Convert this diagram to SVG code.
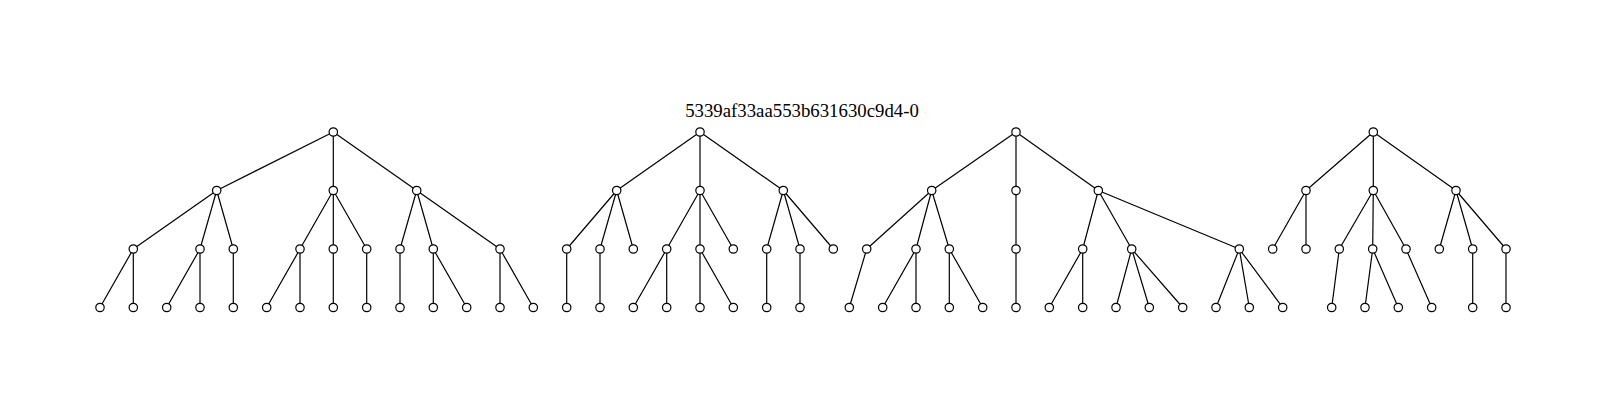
<svg xmlns="http://www.w3.org/2000/svg" width="1607" height="409" viewBox="0 0 1607 409">
<style>
.e{stroke:#000;stroke-width:1.2;fill:none}
.n{fill:#fff;stroke:#000;stroke-width:1.2}
.t{font-family:"Liberation Serif","Times New Roman",serif;font-size:18.8px;fill:#000}
</style>
<rect width="1607" height="409" fill="#fff"/>
<text class="t" x="802" y="116.5" text-anchor="middle">5339af33aa553b631630c9d4-0</text>
<g id="connectors">
<!-- tree 1 -->
<path class="e" d="M333.3,132L216.7,190.5M333.3,132L333.3,190.5M333.3,132L416.7,190.5"/>
<path class="e" d="M216.7,190.5L133.3,249M216.7,190.5L200,249M216.7,190.5L233.3,249"/>
<path class="e" d="M333.3,190.5L300,249M333.3,190.5L333.3,249M333.3,190.5L366.7,249"/>
<path class="e" d="M416.7,190.5L400,249M416.7,190.5L433.3,249M416.7,190.5L500,249"/>
<path class="e" d="M133.3,249L100,307.5M133.3,249L133.3,307.5M200,249L166.7,307.5M200,249L200,307.5M233.3,249L233.3,307.5M300,249L266.7,307.5M300,249L300,307.5M333.3,249L333.3,307.5M366.7,249L366.7,307.5M400,249L400,307.5M433.3,249L433.3,307.5M433.3,249L466.7,307.5M500,249L500,307.5M500,249L533.3,307.5"/>
<!-- tree 2 -->
<path class="e" d="M700,132L616.7,190.5M700,132L700,190.5M700,132L783.3,190.5"/>
<path class="e" d="M616.7,190.5L566.7,249M616.7,190.5L600,249M616.7,190.5L633.3,249"/>
<path class="e" d="M700,190.5L666.7,249M700,190.5L700,249M700,190.5L733.3,249"/>
<path class="e" d="M783.3,190.5L766.7,249M783.3,190.5L800,249M783.3,190.5L833.3,249"/>
<path class="e" d="M566.7,249L566.7,307.5M600,249L600,307.5M666.7,249L633.3,307.5M666.7,249L666.7,307.5M700,249L700,307.5M700,249L733.3,307.5M766.7,249L766.7,307.5M800,249L800,307.5"/>
<!-- tree 3 -->
<path class="e" d="M1016,132L931.7,190.5M1016,132L1016,190.5M1016,132L1098.3,190.5"/>
<path class="e" d="M931.7,190.5L866.7,249M931.7,190.5L916,249M931.7,190.5L949.3,249"/>
<path class="e" d="M1016,190.5L1016,249"/>
<path class="e" d="M1098.3,190.5L1082.7,249M1098.3,190.5L1131.7,249M1098.3,190.5L1239.3,249"/>
<path class="e" d="M866.7,249L849.3,307.5M916,249L882.7,307.5M916,249L916,307.5M949.3,249L949.3,307.5M949.3,249L982.7,307.5M1016,249L1016,307.5M1082.7,249L1049.3,307.5M1082.7,249L1082.7,307.5M1131.7,249L1116,307.5M1131.7,249L1149.3,307.5M1131.7,249L1182.7,307.5M1239.3,249L1216,307.5M1239.3,249L1249.3,307.5M1239.3,249L1282.7,307.5"/>
<!-- tree 4 -->
<path class="e" d="M1373.3,132L1306,190.5M1373.3,132L1373.3,190.5M1373.3,132L1456,190.5"/>
<path class="e" d="M1306,190.5L1272.7,249M1306,190.5L1306,249"/>
<path class="e" d="M1373.3,190.5L1339.3,249M1373.3,190.5L1372.7,249M1373.3,190.5L1406,249"/>
<path class="e" d="M1456,190.5L1439.3,249M1456,190.5L1472.7,249M1456,190.5L1506,249"/>
<path class="e" d="M1339.3,249L1331.7,307.5M1372.7,249L1365,307.5M1372.7,249L1398.3,307.5M1406,249L1431.7,307.5M1472.7,249L1472.7,307.5M1506,249L1506,307.5"/>
</g>
<g id="tree1">
<circle class="n" cx="333.3" cy="132" r="4.2"/>
<circle class="n" cx="216.7" cy="190.5" r="4.2"/><circle class="n" cx="333.3" cy="190.5" r="4.2"/><circle class="n" cx="416.7" cy="190.5" r="4.2"/>
<circle class="n" cx="133.3" cy="249" r="4.2"/><circle class="n" cx="200" cy="249" r="4.2"/><circle class="n" cx="233.3" cy="249" r="4.2"/><circle class="n" cx="300" cy="249" r="4.2"/><circle class="n" cx="333.3" cy="249" r="4.2"/><circle class="n" cx="366.7" cy="249" r="4.2"/><circle class="n" cx="400" cy="249" r="4.2"/><circle class="n" cx="433.3" cy="249" r="4.2"/><circle class="n" cx="500" cy="249" r="4.2"/>
<circle class="n" cx="100" cy="307.5" r="4.2"/><circle class="n" cx="133.3" cy="307.5" r="4.2"/><circle class="n" cx="166.7" cy="307.5" r="4.2"/><circle class="n" cx="200" cy="307.5" r="4.2"/><circle class="n" cx="233.3" cy="307.5" r="4.2"/><circle class="n" cx="266.7" cy="307.5" r="4.2"/><circle class="n" cx="300" cy="307.5" r="4.2"/><circle class="n" cx="333.3" cy="307.5" r="4.2"/><circle class="n" cx="366.7" cy="307.5" r="4.2"/><circle class="n" cx="400" cy="307.5" r="4.2"/><circle class="n" cx="433.3" cy="307.5" r="4.2"/><circle class="n" cx="466.7" cy="307.5" r="4.2"/><circle class="n" cx="500" cy="307.5" r="4.2"/><circle class="n" cx="533.3" cy="307.5" r="4.2"/>
</g>
<g id="tree2">
<circle class="n" cx="700" cy="132" r="4.2"/>
<circle class="n" cx="616.7" cy="190.5" r="4.2"/><circle class="n" cx="700" cy="190.5" r="4.2"/><circle class="n" cx="783.3" cy="190.5" r="4.2"/>
<circle class="n" cx="566.7" cy="249" r="4.2"/><circle class="n" cx="600" cy="249" r="4.2"/><circle class="n" cx="633.3" cy="249" r="4.2"/><circle class="n" cx="666.7" cy="249" r="4.2"/><circle class="n" cx="700" cy="249" r="4.2"/><circle class="n" cx="733.3" cy="249" r="4.2"/><circle class="n" cx="766.7" cy="249" r="4.2"/><circle class="n" cx="800" cy="249" r="4.2"/><circle class="n" cx="833.3" cy="249" r="4.2"/>
<circle class="n" cx="566.7" cy="307.5" r="4.2"/><circle class="n" cx="600" cy="307.5" r="4.2"/><circle class="n" cx="633.3" cy="307.5" r="4.2"/><circle class="n" cx="666.7" cy="307.5" r="4.2"/><circle class="n" cx="700" cy="307.5" r="4.2"/><circle class="n" cx="733.3" cy="307.5" r="4.2"/><circle class="n" cx="766.7" cy="307.5" r="4.2"/><circle class="n" cx="800" cy="307.5" r="4.2"/>
</g>
<g id="tree3">
<circle class="n" cx="1016" cy="132" r="4.2"/>
<circle class="n" cx="931.7" cy="190.5" r="4.2"/><circle class="n" cx="1016" cy="190.5" r="4.2"/><circle class="n" cx="1098.3" cy="190.5" r="4.2"/>
<circle class="n" cx="866.7" cy="249" r="4.2"/><circle class="n" cx="916" cy="249" r="4.2"/><circle class="n" cx="949.3" cy="249" r="4.2"/><circle class="n" cx="1016" cy="249" r="4.2"/><circle class="n" cx="1082.7" cy="249" r="4.2"/><circle class="n" cx="1131.7" cy="249" r="4.2"/><circle class="n" cx="1239.3" cy="249" r="4.2"/>
<circle class="n" cx="849.3" cy="307.5" r="4.2"/><circle class="n" cx="882.7" cy="307.5" r="4.2"/><circle class="n" cx="916" cy="307.5" r="4.2"/><circle class="n" cx="949.3" cy="307.5" r="4.2"/><circle class="n" cx="982.7" cy="307.5" r="4.2"/><circle class="n" cx="1016" cy="307.5" r="4.2"/><circle class="n" cx="1049.3" cy="307.5" r="4.2"/><circle class="n" cx="1082.7" cy="307.5" r="4.2"/><circle class="n" cx="1116" cy="307.5" r="4.2"/><circle class="n" cx="1149.3" cy="307.5" r="4.2"/><circle class="n" cx="1182.7" cy="307.5" r="4.2"/><circle class="n" cx="1216" cy="307.5" r="4.2"/><circle class="n" cx="1249.3" cy="307.5" r="4.2"/><circle class="n" cx="1282.7" cy="307.5" r="4.2"/>
</g>
<g id="tree4">
<circle class="n" cx="1373.3" cy="132" r="4.2"/>
<circle class="n" cx="1306" cy="190.5" r="4.2"/><circle class="n" cx="1373.3" cy="190.5" r="4.2"/><circle class="n" cx="1456" cy="190.5" r="4.2"/>
<circle class="n" cx="1272.7" cy="249" r="4.2"/><circle class="n" cx="1306" cy="249" r="4.2"/><circle class="n" cx="1339.3" cy="249" r="4.2"/><circle class="n" cx="1372.7" cy="249" r="4.2"/><circle class="n" cx="1406" cy="249" r="4.2"/><circle class="n" cx="1439.3" cy="249" r="4.2"/><circle class="n" cx="1472.7" cy="249" r="4.2"/><circle class="n" cx="1506" cy="249" r="4.2"/>
<circle class="n" cx="1331.7" cy="307.5" r="4.2"/><circle class="n" cx="1365" cy="307.5" r="4.2"/><circle class="n" cx="1398.3" cy="307.5" r="4.2"/><circle class="n" cx="1431.7" cy="307.5" r="4.2"/><circle class="n" cx="1472.7" cy="307.5" r="4.2"/><circle class="n" cx="1506" cy="307.5" r="4.2"/>
</g>
</svg>
